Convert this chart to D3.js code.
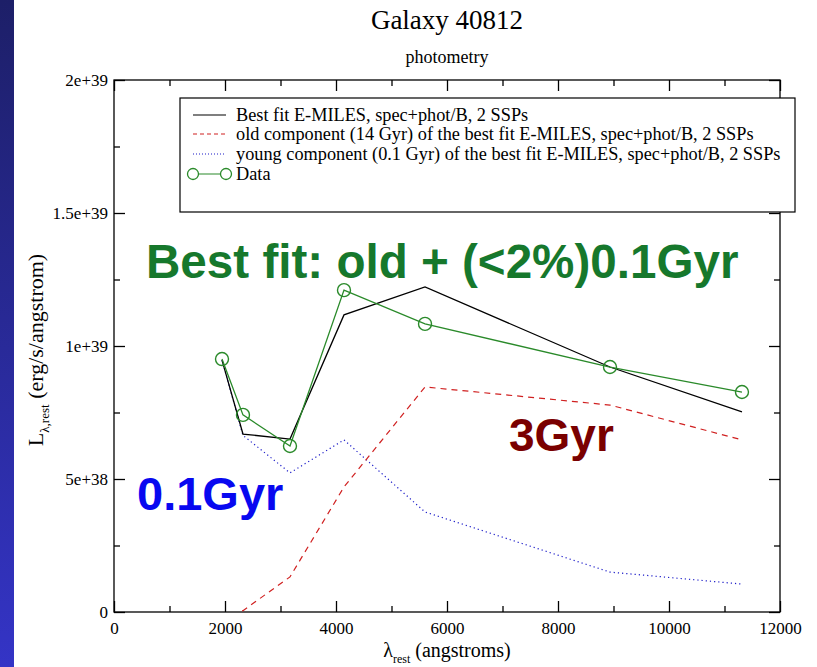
<!DOCTYPE html>
<html lang="en">
<head>
<meta charset="utf-8" />
<title>Galaxy 40812 photometry</title>
<style>
  body { margin: 0; background: #fff; }
  svg text { font-family: "Liberation Serif", "DejaVu Serif", serif; fill: #000; }
  .note { font-family: "Liberation Sans", Arial, sans-serif; font-weight: bold; }
</style>
<script src="https://cdn.jsdelivr.net/npm/d3@7"></script>
</head>
<body>
<script>
// wavelengths (angstroms) of the photometric points
var wave = [1946, 2324, 3171, 4144, 5604, 8937, 11315];
// luminosities in units of 1e38 erg/s/A
var dataVals  = [9.51, 7.41, 6.24, 12.1, 10.83, 9.21, 8.27];
var bestFit   = [9.47, 6.69, 6.50, 11.17, 12.22, 9.21, 7.52];
var oldComp   = [-0.3, 0.05, 1.32, 4.7, 8.46, 7.78, 6.47];
var youngComp = [9.47, 6.64, 5.23, 6.47, 3.76, 1.5, 1.05];

var xTicks = [0, 2000, 4000, 6000, 8000, 10000, 12000];
var yTicks = [0, 5e38, 1e39, 1.5e39, 2e39];
var yTickLabels = ["0", "5e+38", "1e+39", "1.5e+39", "2e+39"];

var legendLabels = [
  "Best fit E-MILES, spec+phot/B, 2 SSPs",
  "old component (14 Gyr) of the best fit E-MILES, spec+phot/B, 2 SSPs",
  "young component (0.1 Gyr) of the best fit E-MILES, spec+phot/B, 2 SSPs",
  "Data"
];

var W = 817, H = 667;
var pLeft = 114, pRight = 780, pTop = 80, pBottom = 612;

var svg = d3.select('body').append('svg')
    .attr('width', W).attr('height', H);

// blue strip on the left edge
var defs = svg.append('defs');
var grad = defs.append('linearGradient')
    .attr('id', 'strip').attr('x1', 0).attr('y1', 0).attr('x2', 0).attr('y2', 1);
grad.append('stop').attr('offset', '0%').attr('stop-color', '#1d1f68');
grad.append('stop').attr('offset', '100%').attr('stop-color', '#3434c6');
svg.append('rect').attr('x', 0).attr('y', 0).attr('width', 14).attr('height', H)
    .attr('fill', 'url(#strip)');

defs.append('clipPath').attr('id', 'plotclip')
  .append('rect').attr('x', pLeft).attr('y', pTop)
  .attr('width', pRight - pLeft).attr('height', pBottom - pTop);

var x = d3.scaleLinear().domain([0, 12000]).range([pLeft, pRight]);
var y = d3.scaleLinear().domain([0, 2e39]).range([pBottom, pTop]);

// titles
svg.append('text').attr('x', 447).attr('y', 29).attr('text-anchor', 'middle')
    .style('font-size', '27px').text('Galaxy 40812');
svg.append('text').attr('x', 447).attr('y', 63).attr('text-anchor', 'middle')
    .style('font-size', '18px').text('photometry');

// frame
svg.append('rect').attr('x', pLeft).attr('y', pTop)
    .attr('width', pRight - pLeft).attr('height', pBottom - pTop)
    .attr('fill', 'none').attr('stroke', '#000').attr('stroke-width', 1.3);

// ticks drawn inward on all four sides
var xMinor = d3.range(1000, 12000, 2000);
var yMinor = d3.range(2.5e38, 2e39, 5e38);

svg.append('g').attr('transform', 'translate(0,' + pBottom + ')')
    .call(d3.axisBottom(x).tickValues(xTicks).tickSize(-11).tickPadding(10)
          .tickFormat(d3.format('d')));
svg.append('g').attr('transform', 'translate(0,' + pBottom + ')')
    .call(d3.axisBottom(x).tickValues(xMinor).tickSize(-6).tickFormat(''));
svg.append('g').attr('transform', 'translate(0,' + pTop + ')')
    .call(d3.axisTop(x).tickValues(xTicks).tickSize(-11).tickFormat(''));
svg.append('g').attr('transform', 'translate(0,' + pTop + ')')
    .call(d3.axisTop(x).tickValues(xMinor).tickSize(-6).tickFormat(''));

svg.append('g').attr('transform', 'translate(' + pLeft + ',0)')
    .call(d3.axisLeft(y).tickValues(yTicks).tickSize(-11).tickPadding(6)
          .tickFormat(function(d, i) { return yTickLabels[i]; }));
svg.append('g').attr('transform', 'translate(' + pLeft + ',0)')
    .call(d3.axisLeft(y).tickValues(yMinor).tickSize(-6).tickFormat(''));
svg.append('g').attr('transform', 'translate(' + pRight + ',0)')
    .call(d3.axisRight(y).tickValues(yTicks).tickSize(-11).tickFormat(''));
svg.append('g').attr('transform', 'translate(' + pRight + ',0)')
    .call(d3.axisRight(y).tickValues(yMinor).tickSize(-6).tickFormat(''));

svg.selectAll('.domain').remove();
svg.selectAll('.tick line').attr('stroke', '#000').attr('stroke-width', 1.3);
svg.selectAll('.tick text').style('font-family', '"Liberation Serif", serif')
    .style('font-size', '17px').attr('fill', '#000');

// axis labels
var yl = svg.append('text').attr('transform', 'translate(43,350) rotate(-90)')
    .attr('text-anchor', 'middle').style('font-size', '22px');
yl.append('tspan').text('L');
yl.append('tspan').attr('dy', 6).style('font-size', '13px').text('λ,rest');
yl.append('tspan').attr('dy', -6).text(' (erg/s/angstrom)');

var xl = svg.append('text').attr('x', 447).attr('y', 657)
    .attr('text-anchor', 'middle').style('font-size', '20px');
xl.append('tspan').text('λ');
xl.append('tspan').attr('dy', 6).style('font-size', '12px').text('rest');
xl.append('tspan').attr('dy', -6).text(' (angstroms)');

// series
var line = d3.line()
    .x(function(d) { return x(d[0]); })
    .y(function(d) { return y(d[1] * 1e38); });

function pairs(vals) { return wave.map(function(w, i) { return [w, vals[i]]; }); }

var plot = svg.append('g').attr('clip-path', 'url(#plotclip)');

plot.append('path').datum(pairs(youngComp)).attr('d', line)
    .attr('fill', 'none').attr('stroke', '#1a1ac8').attr('stroke-width', 1.2)
    .attr('stroke-dasharray', '1.2,3');
plot.append('path').datum(pairs(oldComp)).attr('d', line)
    .attr('fill', 'none').attr('stroke', '#d02020').attr('stroke-width', 1.2)
    .attr('stroke-dasharray', '6,5');
plot.append('path').datum(pairs(bestFit)).attr('d', line)
    .attr('fill', 'none').attr('stroke', '#000').attr('stroke-width', 1.3);
plot.append('path').datum(pairs(dataVals)).attr('d', line)
    .attr('fill', 'none').attr('stroke', '#2a8a2a').attr('stroke-width', 1.3);
plot.selectAll('circle.pt').data(pairs(dataVals)).enter().append('circle')
    .attr('class', 'pt')
    .attr('cx', function(d) { return x(d[0]); })
    .attr('cy', function(d) { return y(d[1] * 1e38); })
    .attr('r', 6.5).attr('fill', 'none').attr('stroke', '#2a8a2a').attr('stroke-width', 1.4);

// legend
var lg = svg.append('g');
lg.append('rect').attr('x', 180).attr('y', 98).attr('width', 615).attr('height', 114)
    .attr('fill', '#fff').attr('stroke', '#000').attr('stroke-width', 1.2);
var rowY = [115, 134, 154, 174];
var styles = [
  { stroke: '#000', dash: null },
  { stroke: '#d02020', dash: '4,3' },
  { stroke: '#1a1ac8', dash: '1,2' },
  { stroke: '#2a8a2a', dash: null }
];
legendLabels.forEach(function(t, i) {
  lg.append('line').attr('x1', 193).attr('x2', 226).attr('y1', rowY[i]).attr('y2', rowY[i])
    .attr('stroke', styles[i].stroke).attr('stroke-width', 1.2)
    .attr('stroke-dasharray', styles[i].dash);
  lg.append('text').attr('x', 236).attr('y', rowY[i] + 6).style('font-size', '18.3px').text(t);
});
[193, 226].forEach(function(cx) {
  lg.append('circle').attr('cx', cx).attr('cy', rowY[3]).attr('r', 5.5)
    .attr('fill', '#fff').attr('stroke', '#2a8a2a').attr('stroke-width', 1.3);
});

// annotations
svg.append('text').attr('class', 'note').attr('x', 146).attr('y', 278)
    .style('font-size', '47.6px').style('fill', '#16782c').text('Best fit: old + (<2%)0.1Gyr');
svg.append('text').attr('class', 'note').attr('x', 509).attr('y', 451)
    .style('font-size', '46px').style('fill', '#7a0000').text('3Gyr');
svg.append('text').attr('class', 'note').attr('x', 137).attr('y', 510)
    .style('font-size', '47px').style('fill', '#0808f0').text('0.1Gyr');
</script>
</body>
</html>
